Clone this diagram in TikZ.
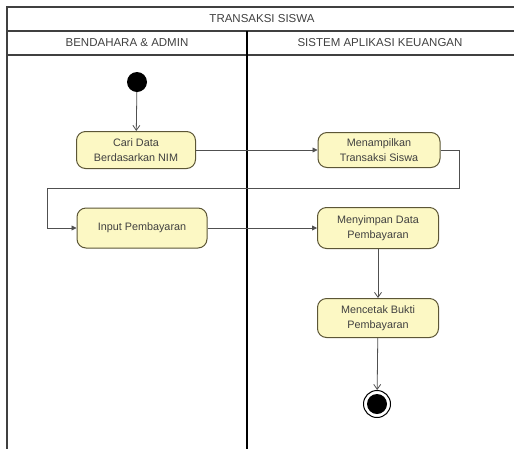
\documentclass[tikz,border=0pt]{standalone}
\usepackage{fontspec}
\setmainfont{Liberation Sans}
\usetikzlibrary{arrows.meta}
\definecolor{actfill}{HTML}{FCF8C4}
\definecolor{actdraw}{HTML}{5C5636}
\definecolor{frame}{HTML}{404040}
\definecolor{flow}{HTML}{505050}
\begin{document}
\begin{tikzpicture}[x=1pt,y=-1pt,
  act/.style={draw=actdraw,line width=1pt,fill=actfill,rounded corners=9pt,minimum height=37pt,align=center,font=\fontsize{10.8}{15}\selectfont,inner sep=1pt,text=black!75},
  lanetext/.style={font=\fontsize{11.5}{12}\selectfont,text=black!75},
  flowline/.style={draw=flow,line width=0.8pt},
  filledarr/.style={flowline,-{Triangle[length=5pt,width=5pt]}},
  openarr/.style={flowline,-{Straight Barb[length=5pt,width=7pt]}}]
\useasboundingbox (0,0) rectangle (514,448);
% frame
\draw[frame,line width=1.3pt] (7,460) -- (7,7) -- (530,7);
\draw[frame,line width=1.3pt] (7,31) -- (530,31);
\draw[frame,line width=1.3pt] (7,55) -- (530,55);
\draw[black,line width=1.3pt] (247,31) -- (247,460);
\node[lanetext] (title) at (262,19) {TRANSAKSI SISWA};
\node[lanetext] (lane1) at (127,43) {BENDAHARA \& ADMIN};
\node[lanetext] (lane2) at (380,43) {SISTEM APLIKASI KEUANGAN};
% nodes
\node[circle,fill=black,minimum size=20pt,inner sep=0] (start) at (137,82) {};
\node[act,minimum width=119pt] (cari) at (136,150) {Cari Data\\Berdasarkan NIM};
\node[act,minimum width=122pt,minimum height=35pt] (tampil) at (379,150) {Menampilkan\\Transaksi Siswa};
\node[act,minimum width=130pt,minimum height=40pt] (input) at (142,228) {Input Pembayaran};
\node[act,minimum width=121pt,minimum height=41pt] (simpan) at (378,228) {Menyimpan Data\\Pembayaran};
\node[act,minimum width=121pt,minimum height=39pt] (cetak) at (378,318) {Mencetak Bukti\\Pembayaran};
\node[circle,draw=black,line width=1pt,fill=white,minimum size=27pt,inner sep=0] (end) at (377,404) {};
\node[circle,fill=black,minimum size=20pt,inner sep=0] (endin) at (end) {};
% flows
\coordinate (c1) at (459,150);
\coordinate (c2) at (459,188);
\coordinate (c3) at (47,188);
\coordinate (c4) at (47,228);
\draw[openarr] (start) -- (cari);
\draw[filledarr] (cari.east) -- (tampil.west);
\draw[filledarr] (tampil.east) -- (c1) -- (c2) -- (c3) -- (c4) -- (input.west);
\draw[filledarr] (input.east) -- (simpan.west);
\draw[openarr] (simpan) -- (cetak);
\draw[openarr] (cetak) -- (end);
\end{tikzpicture}
\end{document}
